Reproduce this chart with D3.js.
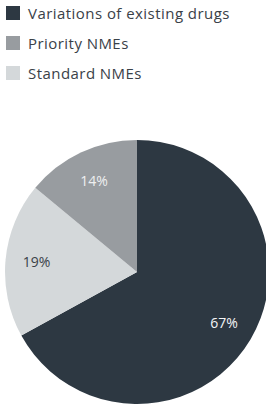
<!DOCTYPE html>
<html>
<head>
<meta charset="utf-8">
<script src="https://cdn.jsdelivr.net/npm/d3@7"></script>
<style>
  body { margin: 0; background: #fff; }
  svg text { font-family: "Open Sans", sans-serif; }
</style>
</head>
<body>
<div id="chart"></div>
<script>
const categories = ['Variations of existing drugs', 'Standard NMEs', 'Priority NMEs'];
const values = [67, 19, 14];
const legendOrder = ['Variations of existing drugs', 'Priority NMEs', 'Standard NMEs'];
const colors = ['#2d3842', '#d4d8da', '#989ca0'];
const labelColors = ['#f4f5f6', '#3a4148', '#eeeff0'];

const width = 266;
const height = 404;
const radius = 132;
const cx = 137;
const cy = 272;

const color = d3.scaleOrdinal().domain(categories).range(colors);
const labelColor = d3.scaleOrdinal().domain(categories).range(labelColors);

const svg = d3.select('#chart')
  .append('svg')
  .attr('width', width)
  .attr('height', height);

// legend
const legend = svg.append('g').attr('transform', 'translate(6, 6)');
const item = legend.selectAll('g')
  .data(legendOrder)
  .enter()
  .append('g')
  .attr('transform', (d, i) => 'translate(0, ' + (i * 30) + ')');

item.append('rect')
  .attr('width', 14)
  .attr('height', 14)
  .attr('fill', d => color(d));

item.append('text')
  .attr('x', 22)
  .attr('y', 12.5)
  .attr('font-size', 15)
  .attr('letter-spacing', 0.45)
  .attr('fill', '#3a4148')
  .text(d => d);

// pie
const pie = d3.pie().sort(null).value(d => d.value);
const arcs = pie(categories.map((c, i) => ({ name: c, value: values[i] })));

const arc = d3.arc().innerRadius(0).outerRadius(radius);
const labelArc = d3.arc().innerRadius(101).outerRadius(101);

const g = svg.append('g').attr('transform', 'translate(' + cx + ',' + cy + ')');

g.selectAll('path')
  .data(arcs)
  .enter()
  .append('path')
  .attr('d', arc)
  .attr('fill', d => color(d.data.name));

g.selectAll('text')
  .data(arcs)
  .enter()
  .append('text')
  .attr('transform', d => 'translate(' + labelArc.centroid(d) + ')')
  .attr('text-anchor', 'middle')
  .attr('dy', '0.35em')
  .attr('font-size', 14)
  .attr('fill', d => labelColor(d.data.name))
  .text(d => d.data.value + '%');
</script>
</body>
</html>
